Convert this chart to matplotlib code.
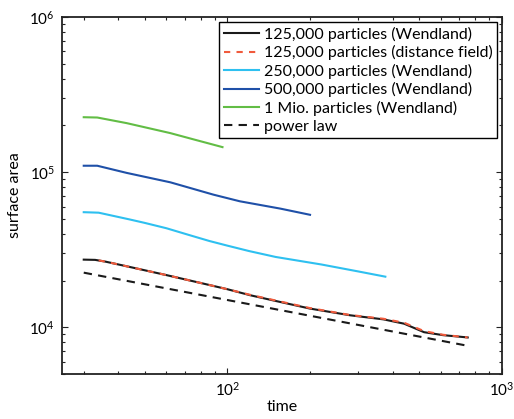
import matplotlib
matplotlib.use("Agg")
import matplotlib.pyplot as plt
from matplotlib.ticker import LogLocator, NullFormatter

# 125,000 Partikel, Wendland-Kern
t_125k = [30, 33, 36, 45, 60, 80, 100, 121, 147, 200, 280, 370, 440, 520, 610, 750]
s_125k = [27300, 27200, 26500, 24300, 21700, 19300, 17600, 16100, 14900, 13200,
          11950, 11250, 10550, 9300, 8900, 8600]

# 125,000 Partikel, Distanzfeld
t_125k_df = [34, 36, 45, 60, 80, 100, 121, 147, 200, 280, 370, 440, 520, 610, 750]
s_125k_df = [27000, 26500, 24300, 21700, 19300, 17600, 16200, 15000, 13300, 12000,
             11350, 10700, 9450, 8950, 8600]

t_250k = [30, 34, 44, 50, 60, 72, 86, 100, 120, 150, 220, 300, 376]
s_250k = [55200, 54800, 49600, 47100, 43500, 39500, 36000, 33600, 31000, 28400,
          25400, 22900, 21200]

t_500k = [30, 33.6, 43, 62, 89, 111, 156, 200]
s_500k = [110000, 110000, 98900, 86000, 71600, 64900, 58200, 53100]

t_1m = [30, 33.6, 43, 62, 75, 96]
s_1m = [226000, 225000, 207000, 178500, 163000, 145000]

t_power = [30, 750]
s_power = [22500, 7600]

labels = [
    "125,000 particles (Wendland)",
    "125,000 particles (distance field)",
    "250,000 particles (Wendland)",
    "500,000 particles (Wendland)",
    "1 Mio. particles (Wendland)",
    "power law",
]

plt.rcParams["font.family"] = ["Lato", "DejaVu Sans"]

fig = plt.figure(figsize=(5.14, 4.19), dpi=100)
ax = fig.add_axes([0.1206, 0.1074, 0.8561, 0.852])

lw = 1.5
ax.plot(t_125k, s_125k, color="#1a1a1a", lw=lw, label=labels[0])
ax.plot(t_125k_df, s_125k_df, color="#f05a3c", lw=lw, ls=(0, (3, 3)), label=labels[1])
ax.plot(t_250k, s_250k, color="#2ec0f0", lw=lw, label=labels[2])
ax.plot(t_500k, s_500k, color="#1f50a8", lw=lw, label=labels[3])
ax.plot(t_1m, s_1m, color="#62bd45", lw=lw, label=labels[4])
ax.plot(t_power, s_power, color="#1a1a1a", lw=lw, ls=(0, (4, 3)), label=labels[5])

ax.set_xscale("log")
ax.set_yscale("log")
ax.set_xlim(25, 1000)
ax.set_ylim(5000, 1e6)

ax.xaxis.set_major_locator(LogLocator(base=10, numticks=10))
ax.xaxis.set_minor_locator(LogLocator(base=10, subs=range(2, 10), numticks=20))
ax.yaxis.set_major_locator(LogLocator(base=10, numticks=10))
ax.yaxis.set_minor_locator(LogLocator(base=10, subs=range(2, 10), numticks=20))
ax.xaxis.set_minor_formatter(NullFormatter())
ax.yaxis.set_minor_formatter(NullFormatter())

ax.tick_params(which="both", direction="in", top=True, right=True, labelsize=11, color="#222222")
ax.tick_params(which="major", length=4, width=0.8, pad=5)
ax.tick_params(which="minor", length=2.5, width=0.8)
for sp in ax.spines.values():
    sp.set_linewidth(1.3)
    sp.set_color("#222222")

ax.set_xlabel("time", fontsize=11.5, labelpad=1)
ax.set_ylabel("surface area", fontsize=11.5, labelpad=5)

leg = ax.legend(loc="upper right", fontsize=11.5, frameon=True, fancybox=False,
                edgecolor="black", framealpha=1, handlelength=2.2,
                borderaxespad=0.3, labelspacing=0.22, handletextpad=0.3,
                borderpad=0.3)
leg.get_frame().set_linewidth(1.0)

fig.savefig("out.png", dpi=100)
